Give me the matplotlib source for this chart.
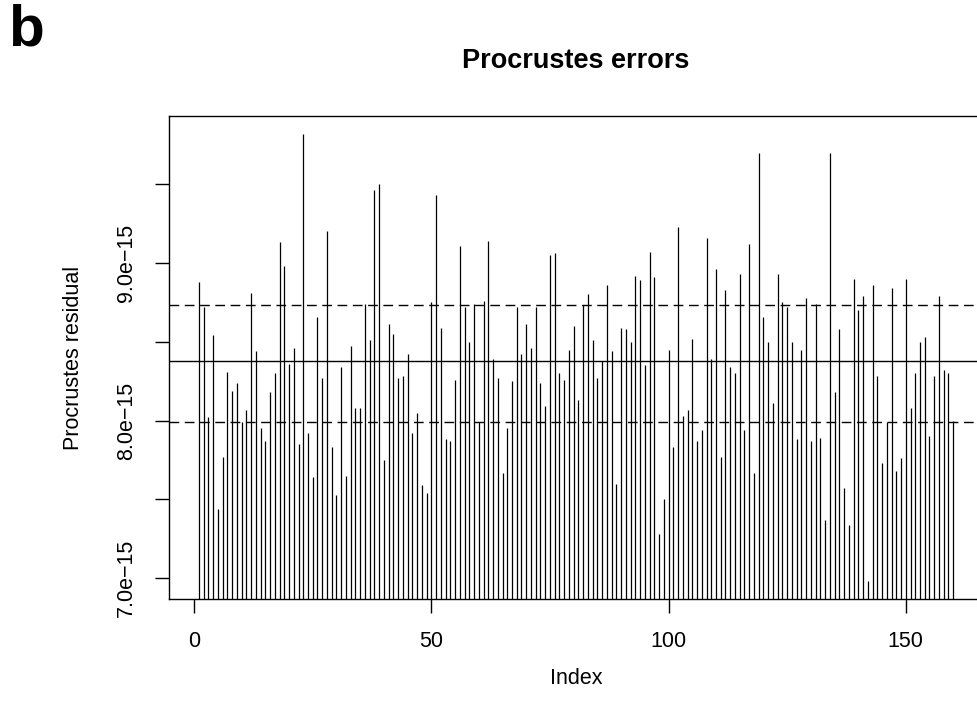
import matplotlib
matplotlib.use("Agg")
import matplotlib.pyplot as plt
import numpy as np

plt.rcParams["font.family"] = ["Liberation Sans", "DejaVu Sans"]

# residuals, in units of 1e-15 (index 1..160)
residual = [
    8.88, 8.72, 8.02, 8.54, 7.44, 7.77, 8.31, 8.19, 8.24, 7.99,
    8.07, 8.81, 8.44, 7.95, 7.87, 8.18, 8.30, 9.13, 8.98, 8.36,
    8.46, 7.85, 9.82, 7.92, 7.64, 8.66, 8.27, 9.20, 7.83, 7.53,
    8.34, 7.65, 8.47, 8.08, 8.08, 8.74, 8.51, 9.46, 9.50, 7.75,
    8.61, 8.55, 8.27, 8.28, 8.42, 7.92, 8.05, 7.59, 7.54, 8.75,
    9.43, 8.59, 7.88, 7.87, 8.26, 9.11, 8.72, 8.50, 8.74, 7.99,
    8.76, 9.14, 8.39, 8.27, 7.67, 7.95, 8.25, 8.72, 8.42, 8.61,
    8.46, 8.72, 8.24, 8.09, 9.05, 9.06, 8.30, 8.26, 8.45, 8.60,
    8.13, 8.73, 8.80, 8.51, 8.27, 8.38, 8.86, 8.44, 7.60, 8.59,
    8.58, 8.50, 8.92, 8.89, 8.35, 9.07, 8.91, 7.28, 7.50, 8.45,
    7.83, 9.23, 8.03, 8.07, 8.52, 7.87, 7.94, 9.16, 8.39, 8.96,
    7.77, 8.83, 8.34, 8.30, 8.93, 7.94, 9.12, 7.67, 9.70, 8.66,
    8.50, 8.11, 8.93, 8.75, 8.72, 8.50, 7.88, 8.45, 8.78, 7.87,
    8.74, 7.89, 7.37, 9.70, 8.18, 8.58, 7.57, 7.34, 8.90, 8.70,
    8.79, 6.98, 8.86, 8.28, 7.73, 7.99, 8.84, 7.68, 7.76, 8.90,
    8.08, 8.30, 8.50, 8.53, 7.90, 8.28, 8.79, 8.32, 8.30, 8.00,
]
center_line = 8.38
band_lines = [8.736, 7.994]

y_ticks = [7.0, 7.5, 8.0, 8.5, 9.0, 9.5]
y_ticklabels = ["7.0e\u221215", "", "8.0e\u221215", "", "9.0e\u221215", ""]
x_ticks = [0, 50, 100, 150]

scale = 1e-15
values = np.array(residual) * scale
index = np.arange(1, len(residual) + 1)

fig = plt.figure(figsize=(9.78, 7.16), dpi=100)
ax = fig.add_axes([0.1725, 0.163, 0.833, 0.6754])

ax.vlines(index, 0, values, color="black", linewidth=0.9)
ax.axhline(center_line * scale, color="black", linewidth=1.0)
for v in band_lines:
    ax.axhline(v * scale, color="black", linewidth=1.0, linestyle=(0, (7, 4)))

pad_x = 0.04 * (index.max() - index.min())
ax.set_xlim(index.min() - pad_x, index.max() + pad_x)
pad_y = 0.04 * (values.max() - values.min())
ax.set_ylim(values.min() - pad_y, values.max() + pad_y)

ax.set_xticks(x_ticks)
ax.set_xticklabels([str(t) for t in x_ticks])
ax.set_yticks(np.array(y_ticks) * scale)
ax.set_yticklabels(y_ticklabels, rotation=90, va="center")
ax.yaxis.get_offset_text().set_visible(False)

ax.tick_params(direction="out", length=10, width=1.0, labelsize=15.5, pad=13)
for s in ax.spines.values():
    s.set_linewidth(1.0)

ax.set_xlabel("Index", fontsize=15.5, labelpad=11)
ax.set_ylabel("Procrustes residual", fontsize=15.5, labelpad=23)
ax.set_title("Procrustes errors", fontsize=19.5, fontweight="bold", pad=34)

fig.text(0.008, 0.995, "b", fontsize=42, fontweight="bold", va="top", ha="left")

fig.savefig("out.png", dpi=100)
